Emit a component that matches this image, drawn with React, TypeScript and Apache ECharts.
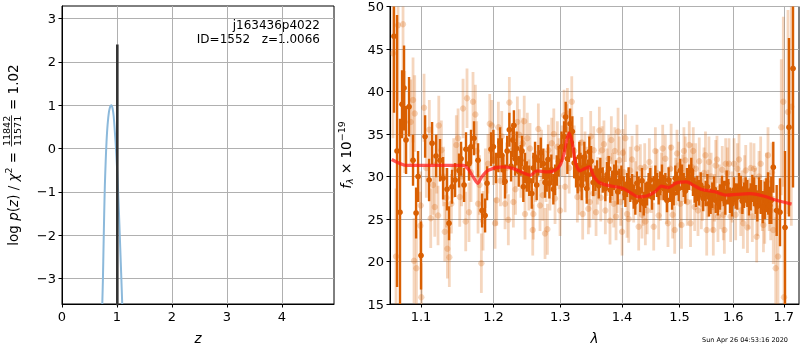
import React, { useEffect, useRef } from 'react';
import * as echarts from 'echarts';

// ---------- Left panel: log p(z) ----------
const pzZ = [0.733, 0.745, 0.757, 0.768, 0.78, 0.795, 0.81, 0.83, 0.855, 0.88, 0.9, 0.92, 0.94, 0.96, 0.98, 1.0, 1.02, 1.04, 1.06, 1.08, 1.096];
const pzLog = [-3.59, -3.0, -2.2, -1.5, -0.85, -0.3, 0.15, 0.55, 0.85, 0.98, 1.0, 0.93, 0.75, 0.42, 0.05, -0.4, -0.95, -1.6, -2.3, -3.0, -3.59];
const zBest = 1.0066;
const zLine = [-3.7, 2.4];
const zTicks = [0, 1, 2, 3, 4];
const logpTicks = [-3, -2, -1, 0, 1, 2, 3];
const zRange = [0, 4.95];
const logpRange = [-3.59, 3.29];

// ---------- Right panel: spectrum ----------
const lamTicks = [1.1, 1.2, 1.3, 1.4, 1.5, 1.6, 1.7];
const lamRange = [1.0598, 1.7313];
const fluxRange = [15, 50];

const darkLam = [
  1.0649, 1.0688, 1.0726, 1.0752, 1.0778, 1.0804, 1.0843, 1.0895, 1.0935, 1.0961,
  1.1000, 1.1054, 1.1107, 1.1147, 1.1200, 1.1254, 1.1295, 1.1349, 1.1376, 1.1417,
  1.1459, 1.1513, 1.1541, 1.1583, 1.1610, 1.1652, 1.1680, 1.1722, 1.1779, 1.1836,
  1.1879, 1.1907, 1.1964, 1.1998, 1.2070, 1.2119, 1.2167, 1.2230, 1.2280, 1.2314,
  1.2338, 1.2398, 1.2437, 1.2488, 1.2563, 1.2613, 1.2663, 1.2739, 1.2791, 1.2831,
  1.2893, 1.2946, 1.3060, 1.3112, 1.3154, 1.3190, 1.3249, 1.3301, 1.3339, 1.3381,
  1.3420, 1.3462, 1.3525, 1.3587, 1.3641, 1.3723, 1.3779, 1.3833, 1.3900, 1.3955,
  1.4029, 1.4085, 1.4140, 1.4198, 1.4254, 1.4311, 1.4370, 1.4427, 1.4484, 1.4543,
  1.4601, 1.4658, 1.4718, 1.4777, 1.4835, 1.4896, 1.4955, 1.5014, 1.5076, 1.5136,
  1.5214, 1.5276, 1.5324, 1.5387, 1.5479, 1.5540, 1.5602, 1.5666, 1.5747, 1.5823,
  1.5874, 1.5937, 1.6014, 1.6078, 1.6144, 1.6208, 1.6272, 1.6338, 1.6403, 1.6469,
  1.6536, 1.6616, 1.6681, 1.6747, 1.6787, 1.6855, 1.6923, 1.7025, 1.7106, 1.7189,
  1.2035, 1.2095, 1.2143, 1.2198, 1.2255, 1.2297, 1.2368, 1.2417, 1.2462, 1.2525,
  1.2588, 1.2638, 1.2700, 1.2765, 1.2811, 1.2862, 1.2920, 1.2975, 1.3020, 1.3085,
  1.3133, 1.3172, 1.3220, 1.3275, 1.3320, 1.3360, 1.3400, 1.3441, 1.3490,
  1.3560, 1.3615, 1.3680, 1.3750, 1.3805, 1.3870, 1.3928, 1.3990, 1.4057, 1.4112,
  1.4170, 1.4226, 1.4282, 1.4340, 1.4398, 1.4455, 1.4514, 1.4572, 1.4630, 1.4688,
  1.4748, 1.4806, 1.4866, 1.4925, 1.4985, 1.5045, 1.5106, 1.5175, 1.5245, 1.5300,
  1.5355, 1.5433, 1.5510, 1.5571, 1.5634, 1.5706, 1.5785, 1.5848, 1.5905, 1.5976,
  1.6046, 1.6111, 1.6176, 1.6240, 1.6305, 1.6370, 1.6436, 1.6502, 1.6576, 1.6648,
  1.6714
];
const darkFlux = [
  46.5, 33.0, 25.8, 38.5, 40.4, 34.3, 38.2, 31.9, 25.7, 30.0,
  20.7, 34.7, 29.6, 33.9, 32.4, 31.9, 29.8, 28.5, 24.5, 28.8,
  29.6, 30.7, 32.1, 29.0, 33.2, 31.5, 33.5, 34.5, 31.9, 26.0,
  25.4, 29.2, 33.2, 33.5, 32.5, 32.5, 29.4, 35.5, 34.3, 32.1,
  33.3, 31.9, 28.8, 30.0, 28.0, 32.3, 31.9, 31.5, 30.0, 29.2,
  28.5, 30.7, 34.7, 32.1, 36.2, 35.3, 30.5, 32.3, 29.0, 32.3,
  28.6, 32.9, 29.3, 30.4, 30.7, 28.6, 30.9, 29.2, 30.4, 29.4,
  28.6, 29.0, 28.4, 27.6, 29.2, 27.2, 26.8, 28.0, 29.6, 28.6,
  29.0, 29.2, 28.6, 27.2, 28.4, 28.0, 29.2, 30.7, 29.0, 29.6,
  30.7, 28.4, 28.6, 29.0, 28.0, 26.8, 27.8, 27.2, 27.6, 28.0,
  29.2, 27.2, 28.4, 27.6, 28.6, 27.8, 28.0, 27.6, 28.2, 26.5,
  27.6, 27.2, 28.0, 27.2, 31.1, 26.0, 25.8, 24.0, 35.8, 42.7,
  31.0, 34.0, 30.8, 33.0, 31.2, 36.0, 30.6, 33.0, 31.0, 29.5,
  31.0, 29.0, 32.8, 29.3, 32.0, 30.8, 29.6, 31.8, 33.5, 37.0,
  33.5, 34.0, 31.6, 29.8, 31.0, 30.5, 31.2, 30.2, 31.8,
  29.8, 28.9, 29.6, 30.2, 28.4, 29.9, 28.2, 29.8, 27.9, 29.6,
  28.8, 27.0, 28.5, 29.5, 27.8, 28.9, 27.6, 29.8, 28.2, 29.9,
  28.9, 29.6, 27.6, 29.8, 28.6, 29.9, 28.3, 29.9, 29.2, 27.9,
  28.1, 27.4, 28.8, 27.1, 28.5, 26.9, 28.6, 27.0, 28.2, 26.8,
  27.7, 28.9, 27.1, 28.4, 27.0, 28.6, 27.3, 28.1, 26.4, 27.8,
  26.6
];
const darkErr = [
  9, 16, 11, 4, 5, 4, 3.5, 3, 3, 3,
  4, 2.5, 2.5, 2.5, 2.5, 2.5, 2.5, 2.5, 2, 2,
  2, 2, 2, 2, 2, 2, 2, 2, 2, 2,
  2, 2, 2, 2, 2, 2, 2, 2, 2, 2,
  2, 1.8, 1.8, 1.8, 1.8, 1.8, 1.8, 1.8, 1.8, 1.8,
  1.8, 1.8, 1.8, 1.8, 1.8, 1.8, 1.8, 1.8, 1.8, 1.8,
  1.8, 1.8, 1.6, 1.5, 1.5, 1.5, 1.5, 1.5, 1.5, 1.5,
  1.4, 1.4, 1.4, 1.4, 1.4, 1.4, 1.4, 1.4, 1.4, 1.4,
  1.4, 1.4, 1.4, 1.4, 1.4, 1.4, 1.4, 1.4, 1.4, 1.4,
  1.5, 1.5, 1.5, 1.5, 1.5, 1.5, 1.5, 1.5, 1.5, 1.5,
  1.5, 1.5, 1.5, 1.5, 1.5, 1.5, 1.6, 1.6, 1.7, 1.8,
  2.0, 2.2, 2.5, 2.8, 3, 3, 4, 9, 10.5, 14,
  1.8, 1.8, 1.8, 1.8, 1.8, 1.8, 1.8, 1.8, 1.8, 1.8,
  1.8, 1.8, 1.8, 1.8, 1.8, 1.8, 1.8, 1.8, 1.8, 1.8,
  1.8, 1.8, 1.8, 1.8, 1.8, 1.8, 1.8, 1.8, 1.8,
  1.5, 1.5, 1.5, 1.5, 1.5, 1.5, 1.5, 1.5, 1.5, 1.5,
  1.5, 1.5, 1.5, 1.5, 1.5, 1.5, 1.5, 1.5, 1.5, 1.5,
  1.5, 1.5, 1.5, 1.5, 1.5, 1.5, 1.5, 1.5, 1.5, 1.5,
  1.5, 1.5, 1.5, 1.5, 1.5, 1.5, 1.5, 1.5, 1.5, 1.5,
  1.5, 1.5, 1.5, 1.5, 1.6, 1.6, 1.7, 1.8, 1.9, 2.0,
  2.2
];

const lightLam = [
  1.0636, 1.0675, 1.0701, 1.0765, 1.0787, 1.0865, 1.0895, 1.0908, 1.0917, 1.0939,
  1.0991, 1.0996, 1.1004, 1.1040, 1.1129, 1.1183, 1.1227, 1.1237, 1.1272, 1.1318,
  1.1354, 1.1380, 1.1408, 1.1476, 1.1523, 1.1569, 1.1606, 1.1624, 1.1652, 1.1708,
  1.1741, 1.1779, 1.1826, 1.1883, 1.1946, 1.1975, 1.2022, 1.2046, 1.2070, 1.2119,
  1.2167, 1.2215, 1.2230, 1.2289, 1.2348, 1.2377, 1.2427, 1.2462, 1.2496, 1.2537,
  1.2578, 1.2587, 1.2663, 1.2688, 1.2730, 1.2765, 1.2801, 1.2816, 1.2868, 1.2919,
  1.2955, 1.2997, 1.3060, 1.3076, 1.3112, 1.3181, 1.3270, 1.3312, 1.3355, 1.3392,
  1.3446, 1.3484, 1.3527, 1.3533, 1.3571, 1.3625, 1.3669, 1.3723, 1.3779, 1.3822,
  1.3862, 1.3900, 1.3934, 1.3955, 1.4001, 1.4029, 1.4085, 1.4140, 1.4198, 1.4254,
  1.4283, 1.4340, 1.4387, 1.4398, 1.4467, 1.4543, 1.4601, 1.4658, 1.4701, 1.4747,
  1.4794, 1.4835, 1.4878, 1.4914, 1.4955, 1.5014, 1.5058, 1.5105, 1.5177, 1.5227,
  1.5276, 1.5295, 1.5337, 1.5398, 1.5448, 1.5498, 1.5540, 1.5602, 1.5621, 1.5666,
  1.5709, 1.5760, 1.5810, 1.5855, 1.5886, 1.5950, 1.6014, 1.6078, 1.6144, 1.6194,
  1.6241, 1.6305, 1.6370, 1.6403, 1.6456, 1.6502, 1.6568, 1.6616, 1.6681, 1.6735,
  1.6787, 1.6836, 1.6882, 1.6949, 1.6990, 1.7004, 1.7086, 1.7154,
  1.1070, 1.1110, 1.1160, 1.1210, 1.1300, 1.1340, 1.1440, 1.1500, 1.1550, 1.1680,
  1.1760, 1.1800, 1.1850, 1.1920,
  1.2000, 1.2100, 1.2190, 1.2260, 1.2320, 1.2400, 1.2450, 1.2520, 1.2620, 1.2710,
  1.2780, 1.2840, 1.2900, 1.2980, 1.3030, 1.3100, 1.3140, 1.3220, 1.3300, 1.3340,
  1.3420, 1.3470,
  1.3598, 1.3648, 1.3700, 1.3752, 1.3800, 1.3842, 1.3880, 1.3918, 1.3978, 1.4015,
  1.4057, 1.4113, 1.4170, 1.4226, 1.4312, 1.4360, 1.4430, 1.4500, 1.4572, 1.4630,
  1.4680, 1.4770, 1.4850, 1.4930, 1.4985, 1.5036, 1.5080, 1.5140, 1.5200, 1.5250,
  1.5360, 1.5420, 1.5475, 1.5520, 1.5580, 1.5645, 1.5690, 1.5735, 1.5790, 1.5830,
  1.5918, 1.5980, 1.6046, 1.6111, 1.6170, 1.6220, 1.6275, 1.6340, 1.6430, 1.6480,
  1.6535, 1.6590, 1.6650, 1.6705, 1.6760
];
const lightFlux = [
  44.5, 20.6, 47.8, 47.9, 36.4, 36.4, 39.0, 20.1, 37.4, 19.2,
  24.2, 26.6, 15.8, 38.1, 25.1, 26.4, 25.4, 36.0, 33.1, 23.5,
  21.5, 20.5, 26.8, 33.7, 27.6, 38.0, 24.7, 39.2, 25.8, 38.8,
  37.3, 26.8, 19.8, 29.8, 36.2, 36.0, 24.5, 27.2, 35.8, 34.7,
  26.8, 24.9, 38.7, 27.0, 36.4, 34.9, 33.9, 25.6, 34.5, 33.3,
  23.7, 25.6, 35.6, 26.6, 27.8, 23.3, 23.8, 33.1, 33.9, 27.4,
  33.5, 26.0, 37.2, 28.8, 37.4, 38.8, 27.6, 31.3, 25.6, 32.3,
  26.2, 34.7, 28.0, 33.1, 25.8, 35.4, 33.1, 26.0, 32.1, 34.3,
  26.8, 25.3, 35.3, 31.9, 23.5, 30.5, 25.6, 30.7, 27.4, 33.3,
  24.1, 25.5, 31.1, 24.7, 31.7, 24.1, 30.4, 27.6, 33.3, 32.1,
  24.5, 30.9, 25.5, 23.7, 32.7, 26.8, 29.8, 31.9, 33.7, 31.1,
  26.4, 30.9, 26.0, 26.8, 30.4, 23.7, 31.7, 26.4, 23.7, 31.3,
  25.3, 26.8, 25.5, 31.5, 30.4, 25.3, 31.5, 30.9, 26.0, 24.5,
  30.7, 26.8, 25.3, 30.9, 22.9, 30.0, 26.6, 25.3, 32.5, 26.0,
  23.7, 19.2, 20.6, 35.8, 38.8, 15.8, 37.6, 38.2,
  31.0, 35.5, 29.0, 31.5, 30.0, 27.5, 31.0, 34.5, 30.0, 30.5,
  33.0, 29.0, 24.8, 31.5,
  32.0, 29.5, 31.0, 33.0, 28.5, 30.5, 36.5, 29.0, 30.0, 32.5,
  30.0, 29.0, 35.0, 31.5, 33.0, 35.5, 31.0, 33.0, 28.5, 34.0,
  30.5, 27.0,
  29.5, 27.5, 33.8, 30.5, 24.8, 30.0, 33.0, 28.5, 27.0, 32.8,
  34.5, 25.0, 32.0, 29.0, 31.0, 27.0, 26.0, 28.5, 33.0, 25.4,
  30.0, 27.2, 33.4, 29.4, 31.3, 24.3, 33.0, 27.0, 24.5, 33.0,
  31.8, 27.6, 32.5, 28.0, 30.0, 27.5, 32.0, 28.6, 30.8, 23.7,
  31.5, 27.6, 25.5, 32.0, 27.7, 29.5, 24.0, 31.0, 28.0, 26.0,
  31.5, 24.3, 29.5, 27.0, 30.5
];
const lightErr = [
  10, 8, 9, 8, 6, 5, 5, 5, 4.5, 4.5,
  4, 4, 4, 4, 3.5, 3.5, 3.5, 3.5, 3.5, 3.5,
  3.5, 3.5, 3.5, 3.5, 3.5, 3.5, 3.5, 3.5, 3.5, 3.5,
  3.5, 3.5, 3.5, 3.5, 3.5, 3, 3, 3, 3, 3,
  3, 3, 3, 3, 3, 3, 3, 3, 3, 3,
  3, 3, 3, 3, 3, 3, 3, 3, 3, 3,
  3, 3, 3, 3, 3, 3, 3, 3, 3, 3,
  3, 3, 3, 2.8, 2.8, 2.8, 2.8, 2.8, 2.8, 2.8,
  2.8, 2.8, 2.8, 2.8, 2.8, 2.8, 2.8, 2.8, 2.8, 2.8,
  2.8, 2.8, 2.8, 2.8, 2.8, 2.8, 2.8, 2.8, 2.8, 2.8,
  2.8, 2.8, 2.8, 2.8, 2.8, 2.8, 2.8, 2.8, 2.8, 2.8,
  2.8, 3, 3, 3, 3, 3, 3, 3, 3, 3,
  3, 3, 3, 3, 3, 3, 3, 3, 3, 3,
  3, 3, 3, 3, 3, 3, 3, 3.2, 3.3, 3.5,
  4, 6, 6, 8, 10, 8, 12, 14,
  3.5, 3.5, 3.5, 3.5, 3.5, 3.5, 3.5, 3.5, 3.5, 3.5,
  3.5, 3.5, 3.5, 3.5,
  3, 3, 3, 3, 3, 3, 3, 3, 3, 3,
  3, 3, 3, 3, 3, 3, 3, 3, 3, 3,
  3, 3,
  2.8, 2.8, 2.8, 2.8, 2.8, 2.8, 2.8, 2.8, 2.8, 2.8,
  2.8, 2.8, 2.8, 2.8, 2.8, 2.8, 2.8, 2.8, 2.8, 2.8,
  2.8, 2.8, 2.8, 2.8, 2.8, 2.8, 2.8, 2.8, 2.8, 2.8,
  2.8, 2.8, 2.8, 2.8, 2.8, 2.8, 2.8, 2.8, 2.8, 2.8,
  3, 3, 3, 3, 3, 3, 3, 3, 3, 3,
  3.2, 3.2, 3.3, 3.4, 3.5
];

const modelLam = [
  1.062, 1.081, 1.099, 1.125, 1.157, 1.164, 1.171, 1.1774, 1.183, 1.1925,
  1.214, 1.229, 1.246, 1.254, 1.264, 1.279, 1.292, 1.2997, 1.306, 1.310,
  1.3143, 1.319, 1.3243, 1.331, 1.339, 1.346, 1.3526, 1.3607, 1.3745, 1.402,
  1.4164, 1.4277, 1.442, 1.4565, 1.468, 1.48, 1.495, 1.513, 1.525, 1.5405,
  1.565, 1.5875, 1.6064, 1.6323, 1.6587, 1.6856, 1.716
];
const modelFlux = [
  32.0, 31.3, 31.3, 31.3, 31.3, 30.9, 29.95, 29.2, 29.95, 30.74,
  31.13, 30.93, 30.35, 30.15, 30.66, 30.54, 30.74, 31.33, 32.7, 34.26,
  35.12, 33.87, 31.52, 30.66, 30.93, 31.13, 30.15, 29.37, 28.98, 28.59,
  28.0, 27.6, 27.7, 28.2, 28.86, 28.7, 29.25, 29.37, 28.98, 28.47,
  28.2, 27.8, 27.9, 27.98, 27.7, 27.2, 26.75
];

const FONT = '"DejaVu Sans", sans-serif';
const DARK = '#d95f02';
const LIGHT = 'rgba(217,95,2,0.26)';

let measureCtx: CanvasRenderingContext2D | null = null;
function measure(t: string, size: number, italic?: boolean) {
  if (!measureCtx) measureCtx = document.createElement('canvas').getContext('2d');
  if (!measureCtx) return t.length * size * 0.6;
  measureCtx.font = `${italic ? 'italic ' : ''}${size}px "DejaVu Sans"`;
  return measureCtx.measureText(t).width;
}

type Part = { t?: string; size: number; it?: boolean; dy?: number; num?: string; den?: string };

function mathLabel(parts: Part[], cx: number, cy: number) {
  let x = 0;
  const children: any[] = [];
  for (const p of parts) {
    if (p.num) {
      const wn = measure(p.num, p.size);
      const wd = measure(p.den || '', p.size);
      const w = Math.max(wn, wd) + 3;
      children.push({ type: 'text', x: x + w / 2, y: -6.5, style: { text: p.num, fontSize: p.size, fontFamily: FONT, fill: '#000', align: 'center', verticalAlign: 'middle' } });
      children.push({ type: 'text', x: x + w / 2, y: 4.5, style: { text: p.den, fontSize: p.size, fontFamily: FONT, fill: '#000', align: 'center', verticalAlign: 'middle' } });
      children.push({ type: 'line', shape: { x1: x + 1, y1: -1.5, x2: x + w - 1, y2: -1.5 }, style: { stroke: '#000', lineWidth: 0.8 } });
      x += w;
    } else {
      const t = p.t || '';
      const w = measure(t, p.size, p.it);
      children.push({ type: 'text', x, y: p.dy || 0, style: { text: t, fontSize: p.size, fontStyle: p.it ? 'italic' : 'normal', fontFamily: FONT, fill: '#000', align: 'left', verticalAlign: 'middle' } });
      x += w;
    }
  }
  return { type: 'group', x: cx, y: cy + x / 2, rotation: Math.PI / 2, children };
}

function errRender(color: string, lw: number, r: number) {
  return (params: any, api: any) => {
    const x = api.value(0), y = api.value(1), e = api.value(2);
    const top = api.coord([x, y + e]);
    const bot = api.coord([x, y - e]);
    const c = api.coord([x, y]);
    const cs = params.coordSys;
    return {
      type: 'group',
      clipPath: { type: 'rect', shape: { x: cs.x, y: cs.y, width: cs.width, height: cs.height } },
      children: [
        { type: 'line', shape: { x1: top[0], y1: top[1], x2: bot[0], y2: bot[1] }, style: { stroke: color, lineWidth: lw } },
        { type: 'circle', shape: { cx: c[0], cy: c[1], r }, style: { fill: color } },
      ],
    };
  };
}

export default function App() {
  const ref = useRef<HTMLDivElement>(null);
  useEffect(() => {
    if (!ref.current) return;
    const chart = echarts.init(ref.current, undefined, { renderer: 'svg' });
    const L = (v: number) => Math.log10(v);
    const fs = 13.5, sm = 9.5;
    const axisCommon = {
      axisLine: { show: true, onZero: false, lineStyle: { color: '#000', width: 1 } },
      splitLine: { show: true, lineStyle: { color: '#b0b0b0', width: 1 } },
    };
    const labelStyle = { color: '#000', fontSize: 13, fontFamily: FONT };
    const nameStyle = { color: '#000', fontSize: fs, fontFamily: FONT, fontStyle: 'italic' };
    const option: any = {
      animation: false,
      grid: [
        { left: 62, top: 6, width: 272, height: 298, show: true, borderColor: '#000', borderWidth: 1, backgroundColor: 'transparent' },
        { left: 390, top: 6, width: 409, height: 298, show: true, borderColor: '#000', borderWidth: 1, backgroundColor: 'transparent' },
      ],
      xAxis: [
        {
          gridIndex: 0, type: 'value', min: zRange[0], max: zRange[1], ...axisCommon,
          axisTick: { show: true, length: 3.5, lineStyle: { color: '#000' }, customValues: zTicks },
          axisLabel: { ...labelStyle, margin: 6, customValues: zTicks },
          name: 'z', nameLocation: 'middle', nameGap: 27, nameTextStyle: nameStyle,
        },
        {
          gridIndex: 1, type: 'value', min: L(lamRange[0]), max: L(lamRange[1]), ...axisCommon,
          axisTick: { show: true, length: 3.5, lineStyle: { color: '#000' }, customValues: lamTicks.map(L) },
          axisLabel: { ...labelStyle, margin: 6, customValues: lamTicks.map(L), formatter: (v: number) => Math.pow(10, v).toFixed(1) },
          name: 'λ', nameLocation: 'middle', nameGap: 27, nameTextStyle: nameStyle,
        },
      ],
      yAxis: [
        {
          gridIndex: 0, type: 'value', min: logpRange[0], max: logpRange[1], ...axisCommon,
          axisTick: { show: true, length: 3.5, lineStyle: { color: '#000' }, customValues: logpTicks },
          axisLabel: { ...labelStyle, margin: 6, customValues: logpTicks, formatter: (v: number) => (v < 0 ? '−' + Math.abs(v) : String(v)) },
        },
        {
          gridIndex: 1, type: 'value', min: fluxRange[0], max: fluxRange[1], interval: 5, ...axisCommon,
          axisTick: { show: true, length: 3.5, lineStyle: { color: '#000' } },
          axisLabel: { ...labelStyle, margin: 6 },
        },
      ],
      series: [
        {
          type: 'line', xAxisIndex: 0, yAxisIndex: 0, showSymbol: false, smooth: 0.3,
          data: pzZ.map((z, i) => [z, pzLog[i]]),
          lineStyle: { color: '#8cb9db', width: 2 }, z: 2,
        },
        {
          type: 'line', xAxisIndex: 0, yAxisIndex: 0, showSymbol: false,
          data: zLine.map((v) => [zBest, v]),
          lineStyle: { color: '#333333', width: 2.6 }, z: 3,
        },
        {
          type: 'custom', xAxisIndex: 1, yAxisIndex: 1, z: 2,
          renderItem: errRender(LIGHT, 2.8, 3.2),
          encode: { x: 0, y: 1 },
          data: lightLam.map((l, i) => [L(l), lightFlux[i], lightErr[i]]),
        },
        {
          type: 'custom', xAxisIndex: 1, yAxisIndex: 1, z: 3,
          renderItem: errRender(DARK, 2.4, 2.9),
          encode: { x: 0, y: 1 },
          data: darkLam.map((l, i) => [L(l), darkFlux[i], darkErr[i]]),
        },
        {
          type: 'line', xAxisIndex: 1, yAxisIndex: 1, showSymbol: false, smooth: 0.25, z: 4,
          data: modelLam.map((l, i) => [L(l), modelFlux[i]]),
          lineStyle: { color: 'rgba(255,25,25,0.72)', width: 3.2 },
        },
      ],
      graphic: [
        { type: 'text', x: 320, y: 24.5, style: { text: 'j163436p4022', fontSize: 12, fontFamily: FONT, fill: '#000', align: 'right', verticalAlign: 'middle' } },
        { type: 'text', x: 320, y: 38.5, style: { text: 'ID=1552   z=1.0066', fontSize: 12, fontFamily: FONT, fill: '#000', align: 'right', verticalAlign: 'middle' } },
        { type: 'text', x: 788, y: 340, style: { text: 'Sun Apr 26 04:53:16 2020', fontSize: 6.5, fontFamily: FONT, fill: '#000', align: 'right', verticalAlign: 'middle' } },
        mathLabel([
          { t: 'log ', size: fs }, { t: 'p', size: fs, it: true }, { t: '(', size: fs }, { t: 'z', size: fs, it: true },
          { t: ') / ', size: fs }, { t: 'χ', size: fs, it: true }, { t: '2', size: sm, dy: -5 }, { t: ' = ', size: fs },
          { num: '11842', den: '11571', size: sm }, { t: ' = 1.02', size: fs },
        ], 13, 155),
        mathLabel([
          { t: 'f', size: fs, it: true }, { t: 'λ', size: sm, it: true, dy: 3.5 }, { t: ' × 10', size: fs }, { t: '−19', size: sm, dy: -5 },
        ], 346, 155),
      ],
    };
    chart.setOption(option);
    return () => chart.dispose();
  }, []);
  return <div ref={ref} style={{ position: 'fixed', left: 0, top: 0, width: 800, height: 350 }} />;
}
